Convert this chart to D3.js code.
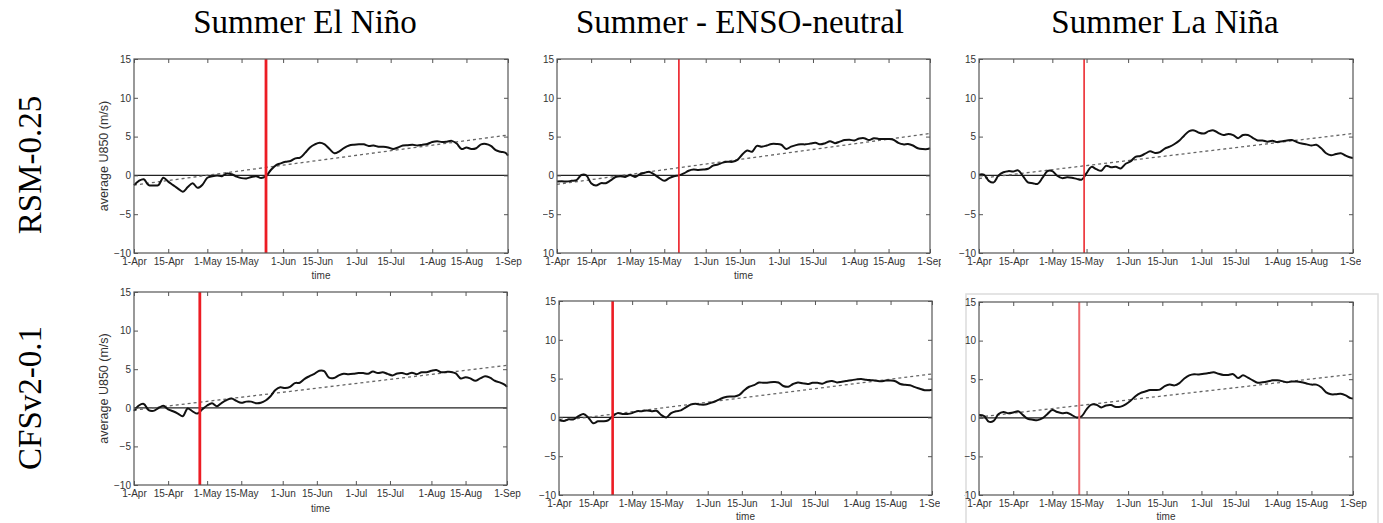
<!DOCTYPE html>
<html>
<head>
<meta charset="utf-8">
<script src="https://cdn.jsdelivr.net/npm/d3@7"></script>
<style>
  body { margin: 0; background: #fff; }
  svg { display: block; }
  .tick text { font-family: "Liberation Sans", Arial, sans-serif; font-size: 10px; fill: #333; }
  .ax-label { font-family: "Liberation Sans", Arial, sans-serif; fill: #333; }
  .big { font-family: "Liberation Serif", "Times New Roman", serif; font-size: 33px; fill: #000; }
</style>
</head>
<body>
<svg id="chart" width="1383" height="523"></svg>
<script>
// x sampling grid: days after 1-Apr, every 2 days, closing on 1-Sep
const sampleDays = d3.range(0, 153, 2).concat([153]);

// average U850 (m/s)
const rsmElNino = [-1.25,-0.7,-0.5,-1.25,-1.3,-1.25,-0.3,-0.8,-1.25,-1.7,
  -2.1,-1.5,-1.0,-1.6,-1.2,-0.3,-0.1,0.0,-0.1,0.25,
  0.15,-0.15,-0.35,-0.4,-0.2,-0.1,-0.35,-0.1,0.7,1.3,
  1.55,1.75,1.85,2.2,2.3,2.9,3.6,4.0,4.2,4.0,
  3.4,2.85,3.1,3.55,3.85,3.95,4.0,4.0,3.8,3.85,
  3.7,3.7,3.6,3.4,3.6,3.85,3.9,3.95,3.85,3.95,
  4.05,4.3,4.4,4.3,4.35,4.45,4.1,3.4,3.6,3.4,
  3.5,4.0,4.05,3.8,3.25,3.05,2.9,2.55];
const rsmNeutral = [-0.8,-0.75,-0.8,-0.7,-0.6,0.05,0.0,-1.0,-1.3,-1.0,
  -1.0,-0.65,-0.2,-0.1,-0.2,0.05,-0.2,0.15,0.35,0.45,
  0.1,-0.35,-0.7,-0.35,-0.1,0.0,0.25,0.6,0.75,0.7,
  0.75,0.85,1.25,1.4,1.65,1.75,1.75,2.0,2.7,3.2,
  3.05,3.8,3.7,3.85,4.05,4.05,3.95,3.4,3.7,3.9,
  4.0,4.0,4.1,4.2,4.0,4.15,4.4,4.15,4.35,4.55,
  4.6,4.5,4.75,4.8,4.55,4.8,4.7,4.7,4.7,4.6,
  4.2,4.0,4.05,3.85,3.5,3.4,3.4,3.5];
const rsmLaNina = [0.1,0.1,-0.7,-0.9,0.0,0.4,0.55,0.5,0.65,-0.1,
  -0.9,-1.0,-1.1,-0.3,0.55,0.55,-0.05,-0.35,-0.25,-0.3,
  -0.45,-0.55,0.3,1.1,0.8,0.6,1.25,1.05,1.1,0.9,
  1.5,1.8,2.4,2.5,2.8,3.1,2.9,3.0,3.45,3.7,
  4.05,4.5,5.15,5.7,5.8,5.5,5.4,5.7,5.8,5.45,
  5.2,5.35,5.2,4.8,5.2,5.2,4.85,4.5,4.5,4.35,
  4.45,4.3,4.4,4.5,4.55,4.3,4.1,4.0,3.85,3.95,
  3.5,2.85,2.6,2.75,2.85,2.55,2.3,2.25];
const cfsElNino = [-0.4,0.3,0.5,-0.3,-0.4,-0.05,0.25,-0.2,-0.45,-0.75,
  -1.1,-0.1,-0.45,-0.75,-0.2,0.3,0.6,0.2,0.65,1.0,
  1.2,0.9,0.65,0.8,0.8,0.6,0.65,0.95,1.5,2.3,
  2.65,2.55,2.7,3.2,3.25,3.75,4.1,4.4,4.8,4.75,
  3.9,3.85,4.2,4.4,4.35,4.4,4.5,4.5,4.4,4.7,
  4.5,4.6,4.4,4.2,4.45,4.5,4.35,4.55,4.35,4.6,
  4.6,4.8,4.9,4.6,4.65,4.65,4.45,3.8,3.95,3.8,
  3.5,3.8,4.1,3.9,3.5,3.3,3.0,2.7];
const cfsNeutral = [-0.3,-0.45,-0.25,-0.25,0.15,0.45,0.0,-0.75,-0.5,-0.5,
  -0.4,0.15,0.55,0.45,0.45,0.55,0.8,0.8,0.9,0.8,
  0.85,0.3,0.0,0.55,0.8,0.9,1.3,1.65,1.75,1.65,
  1.65,1.85,2.05,2.35,2.6,2.7,2.7,2.9,3.5,3.95,
  4.15,4.5,4.45,4.5,4.55,4.5,4.05,3.95,4.3,4.5,
  4.4,4.3,4.45,4.45,4.35,4.6,4.7,4.5,4.6,4.7,
  4.8,4.9,4.95,4.85,4.8,4.75,4.65,4.75,4.75,4.65,
  4.3,4.2,4.15,3.9,3.7,3.5,3.5,3.55];
const cfsLaNina = [0.35,0.25,-0.5,-0.4,0.5,0.75,0.6,0.7,0.85,0.35,
  -0.15,-0.25,-0.3,-0.05,0.5,1.0,0.75,0.6,0.65,0.35,
  0.05,0.2,1.1,1.7,1.7,1.35,1.6,1.65,1.4,1.45,
  1.75,2.2,2.8,3.2,3.4,3.6,3.6,3.65,4.1,4.3,
  4.2,4.5,5.1,5.5,5.65,5.6,5.7,5.8,5.9,5.7,
  5.55,5.55,5.65,5.15,5.5,5.2,4.85,4.55,4.6,4.7,
  4.85,4.85,4.75,4.6,4.7,4.7,4.6,4.45,4.3,4.3,
  3.95,3.3,3.05,3.05,3.1,2.9,2.55,2.5];

// linear trend, value on 1-Apr and on 1-Sep
const trendRsmElNino = [-1.25, 5.2];
const trendRsmNeutral = [-1.15, 5.4];
const trendRsmLaNina = [-0.4, 5.4];
const trendCfsElNino = [-0.3, 5.5];
const trendCfsNeutral = [-0.45, 5.6];
const trendCfsLaNina = [0.1, 5.65];

// onset dates (red lines)
const onsetDates = ["25-May", "21-May", "14-May", "28-Apr", "23-Apr", "12-May"];

const xTickLabels = ["1-Apr","15-Apr","1-May","15-May","1-Jun","15-Jun","1-Jul","15-Jul","1-Aug","15-Aug","1-Sep"];
const yTicks = [-10, -5, 0, 5, 10, 15];
const columnTitles = ["Summer El Niño", "Summer - ENSO-neutral", "Summer La Niña"];
const rowLabels = ["RSM-0.25", "CFSv2-0.1"];

const parseDay = d3.utcParse("%d-%b-%Y");
const toDate = s => parseDay(s + "-2001");
const startDate = toDate("1-Apr"), endDate = toDate("1-Sep");
const sampleDates = sampleDays.map(d => d3.utcDay.offset(startDate, d));

const svg = d3.select("#chart");

// panel boxes and crop limits (as in the pasted-together figure)
const panels = [
  {values: rsmElNino, trend: trendRsmElNino, onset: onsetDates[0], l: 134, r: 508, t: 59, b: 253,
   crop: null, yLabel: true, timeY: 279, red: "#ec1c24", redW: 2.8},
  {values: rsmNeutral, trend: trendRsmNeutral, onset: onsetDates[1], l: 557, r: 930, t: 59, b: 253,
   crop: [543, 941], yLabel: false, timeY: 279, red: "#ec1c24", redW: 1.6},
  {values: rsmLaNina, trend: trendRsmLaNina, onset: onsetDates[2], l: 979, r: 1353, t: 59, b: 253,
   crop: [955, 1361], yLabel: false, timeY: null, red: "#ec2a30", redW: 1.6},
  {values: cfsElNino, trend: trendCfsElNino, onset: onsetDates[3], l: 134, r: 507, t: 292, b: 485,
   crop: null, yLabel: true, timeY: 512, red: "#ec1c24", redW: 2.8},
  {values: cfsNeutral, trend: trendCfsNeutral, onset: onsetDates[4], l: 559, r: 932, t: 301, b: 495,
   crop: [530, 940], yLabel: false, timeY: 520, red: "#ec1c24", redW: 2.6},
  {values: cfsLaNina, trend: trendCfsLaNina, onset: onsetDates[5], l: 979, r: 1353, t: 302, b: 495,
   crop: [964, 1378], yLabel: false, timeY: 520, red: "#ec6a6e", redW: 2}
];

// faint frame of the last pasted image
svg.append("rect")
  .attr("x", 966).attr("y", 294).attr("width", 412).attr("height", 240)
  .attr("fill", "none").attr("stroke", "#dcdcdc").attr("stroke-width", 1.5);

panels.forEach((p, i) => {
  const w = p.r - p.l, h = p.b - p.t;
  const g = svg.append("g").attr("transform", `translate(${p.l},${p.t})`);

  if (p.crop) {
    const id = "crop" + i;
    svg.append("clipPath").attr("id", id).append("rect")
      .attr("x", p.crop[0] - p.l).attr("y", -40)
      .attr("width", p.crop[1] - p.crop[0]).attr("height", h + 80);
    g.attr("clip-path", `url(#${id})`);
  }

  const x = d3.scaleUtc().domain([startDate, endDate]).range([0, w]);
  const y = d3.scaleLinear().domain([-10, 15]).range([h, 0]);
  const tickDates = xTickLabels.map(toDate);

  // zero line
  g.append("line")
    .attr("x1", 0).attr("x2", w).attr("y1", y(0)).attr("y2", y(0))
    .attr("stroke", "#222").attr("stroke-width", 1.3);

  // trend
  g.append("line")
    .attr("x1", x(startDate)).attr("y1", y(p.trend[0]))
    .attr("x2", x(endDate)).attr("y2", y(p.trend[1]))
    .attr("stroke", "#666").attr("stroke-width", 1.3).attr("stroke-dasharray", "3,3");

  // series
  const line = d3.line()
    .x((d, k) => x(sampleDates[k]))
    .y(d => y(d))
    .curve(d3.curveCatmullRom.alpha(0.5));
  g.append("path")
    .attr("d", line(p.values))
    .attr("fill", "none").attr("stroke", "#111").attr("stroke-width", 2)
    .attr("stroke-linejoin", "round");

  // onset
  const xo = x(toDate(p.onset));
  g.append("line")
    .attr("x1", xo).attr("x2", xo).attr("y1", y(15)).attr("y2", y(-10))
    .attr("stroke", p.red).attr("stroke-width", p.redW);

  // axes (ticks pointing in, MATLAB style)
  const xAxis = g.append("g").attr("transform", `translate(0,${h})`)
    .call(d3.axisBottom(x).tickValues(tickDates).tickFormat((d, k) => xTickLabels[k])
      .tickSizeInner(-4).tickSizeOuter(0).tickPadding(5));
  g.append("g")
    .call(d3.axisLeft(y).tickValues(yTicks).tickFormat(d3.format("d"))
      .tickSizeInner(-4).tickSizeOuter(0).tickPadding(3));
  g.append("g").attr("transform", `translate(${w},0)`)
    .call(d3.axisRight(y).tickValues(yTicks).tickFormat("").tickSizeInner(-4).tickSizeOuter(0));
  g.append("g")
    .call(d3.axisTop(x).tickValues(tickDates).tickFormat("").tickSizeInner(-4).tickSizeOuter(0));
  g.selectAll(".domain").remove();
  g.selectAll(".tick line").attr("stroke", "#555");
  xAxis.selectAll("text").attr("dy", "0.71em");

  // frame
  g.append("rect")
    .attr("width", w).attr("height", h)
    .attr("fill", "none").attr("stroke", "#555").attr("stroke-width", 1.2);

  if (p.timeY) {
    g.append("text").attr("class", "ax-label")
      .attr("x", w / 2).attr("y", p.timeY - p.t)
      .attr("text-anchor", "middle").attr("font-size", 10)
      .text("time");
  }
  if (p.yLabel) {
    g.append("text").attr("class", "ax-label")
      .attr("transform", `translate(-26,${h / 2}) rotate(-90)`)
      .attr("text-anchor", "middle").attr("font-size", 12.5)
      .text("average U850 (m/s)");
  }
});

// column titles
const titleX = [305, 740, 1165];
columnTitles.forEach((t, i) => {
  svg.append("text").attr("class", "big")
    .attr("x", titleX[i]).attr("y", 33).attr("text-anchor", "middle")
    .text(t);
});

// row labels
const rowY = [165, 398];
rowLabels.forEach((t, i) => {
  svg.append("text").attr("class", "big")
    .attr("transform", `translate(41,${rowY[i]}) rotate(-90)`)
    .attr("text-anchor", "middle")
    .text(t);
});
</script>
</body>
</html>
